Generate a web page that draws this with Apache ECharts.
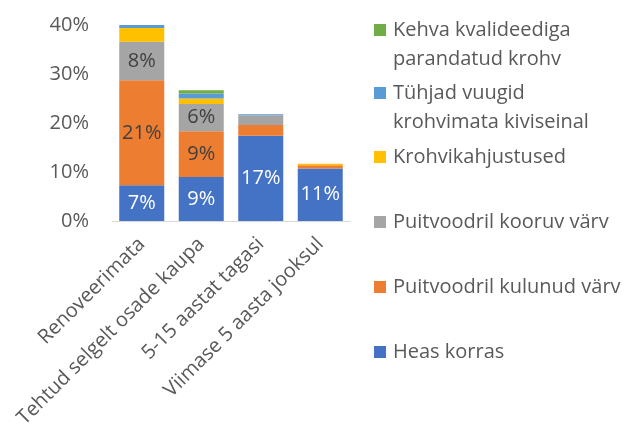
<!DOCTYPE html>
<html>
<head>
<meta charset="utf-8">
<script src="https://cdn.jsdelivr.net/npm/echarts@6/dist/echarts.min.js"></script>
<style>
  html, body { margin: 0; padding: 0; background: #fff; }
  #main { width: 629px; height: 434px; }
</style>
</head>
<body>
<div id="main"></div>
<script>
// kategooriad (x-telg)
const categories = ['Renoveerimata', 'Tehtud selgelt osade kaupa', '5-15 aastat tagasi', 'Viimase 5 aasta jooksul'];
// seeriad alt üles, väärtused protsentides
const heasKorras = [7.3, 9.0, 17.4, 10.7];
const kulunudVarv = [21.4, 9.3, 2.2, 0.7];
const kooruvVarv = [7.9, 5.6, 2.0, 0];
const krohviKahjustused = [2.8, 1.1, 0, 0.3];
const tuhjadVuugid = [0.7, 1.0, 0.2, 0];
const kehvaKrohv = [0.3, 0.7, 0, 0];
const yTicks = [0, 10, 20, 30, 40];

const FONT = '"Open Sans", sans-serif';
const TXT = '#595959';

const chart = echarts.init(document.getElementById('main'));

function seria (name, data, color, labelColor) {
  return {
    name: name,
    type: 'bar',
    stack: 'kokku',
    data: data,
    barWidth: 45,
    itemStyle: { color: color },
    label: {
      show: true,
      position: 'inside',
      color: labelColor,
      fontFamily: FONT,
      fontSize: 20,
      formatter: p => (p.value >= 5 ? Math.round(p.value) + '%' : '')
    },
    emphasis: { disabled: true }
  };
}

const series = [
  seria('Heas korras', heasKorras, '#4472C4', '#ffffff'),
  seria('Puitvoodril kulunud värv', kulunudVarv, '#ED7D31', '#404040'),
  seria('Puitvoodril kooruv värv', kooruvVarv, '#A5A5A5', '#404040'),
  seria('Krohvikahjustused', krohviKahjustused, '#FFC000', '#404040'),
  seria('Tühjad vuugid krohvimata kiviseinal', tuhjadVuugid, '#5B9BD5', '#404040'),
  seria('Kehva kvalideediga parandatud krohv', kehvaKrohv, '#70AD47', '#404040')
];

// legendi kirjed: nimi, kuvatav tekst, markeri keskkoha y
const legendItems = [
  ['Kehva kvalideediga parandatud krohv', 'Kehva kvalideediga\nparandatud krohv', 30],
  ['Tühjad vuugid krohvimata kiviseinal', 'Tühjad vuugid\nkrohvimata kiviseinal', 93],
  ['Krohvikahjustused', 'Krohvikahjustused', 157],
  ['Puitvoodril kooruv värv', 'Puitvoodril kooruv värv', 222],
  ['Puitvoodril kulunud värv', 'Puitvoodril kulunud värv', 287],
  ['Heas korras', 'Heas korras', 352]
];
const LH = 29;

const legends = legendItems.map(([name, text, cy]) => {
  const twoLines = text.indexOf('\n') >= 0;
  return {
    data: [name],
    left: 374,
    top: twoLines ? cy - 1.5 * LH : cy - LH / 2,
    padding: 0,
    itemWidth: 12,
    itemHeight: 12,
    itemGap: 0,
    icon: 'rect',
    selectedMode: false,
    // tühi esimene rida, et marker jääks esimese tekstirea kõrgusele
    formatter: () => (twoLines ? '\n' + text : text),
    textStyle: {
      color: TXT,
      fontFamily: FONT,
      fontSize: 20,
      lineHeight: LH,
      padding: [0, 0, 0, 2]
    }
  };
});

const option = {
  animation: false,
  textStyle: { fontFamily: FONT },
  legend: legends,
  grid: { left: 112, right: 279, top: 25, bottom: 213, containLabel: false },
  xAxis: {
    type: 'category',
    data: categories,
    axisLine: { show: true, lineStyle: { color: '#D9D9D9', width: 1 } },
    axisTick: { show: false },
    axisLabel: {
      interval: 0,
      rotate: 45,
      margin: 20,
      color: TXT,
      fontFamily: FONT,
      fontSize: 20
    }
  },
  yAxis: {
    type: 'value',
    min: yTicks[0],
    max: yTicks[yTicks.length - 1],
    interval: 10,
    splitLine: { show: false },
    axisLine: { show: false },
    axisTick: { show: false },
    axisLabel: {
      margin: 23,
      color: TXT,
      fontFamily: FONT,
      fontSize: 20,
      formatter: '{value}%'
    }
  },
  series: series
};

chart.setOption(option);
</script>
</body>
</html>
